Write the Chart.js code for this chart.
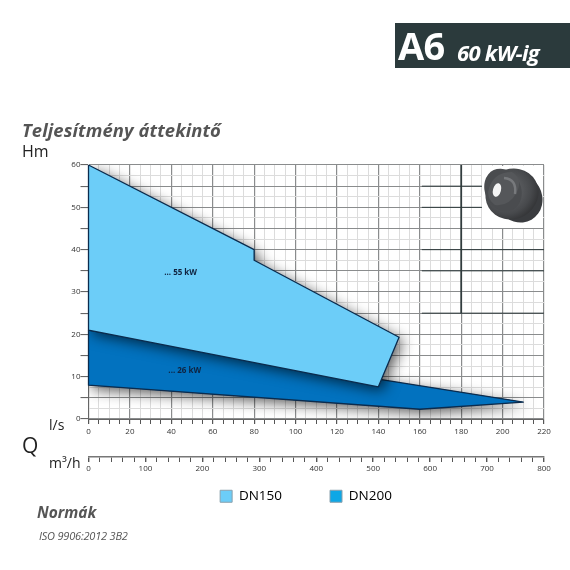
<!DOCTYPE html>
<html lang="hu">
<head>
<meta charset="utf-8">
<title>A6 - Teljesítmény áttekintő</title>
<script src="https://cdn.jsdelivr.net/npm/chart.js@4"></script>
<style>
    html, body { margin: 0; padding: 0; background: #fff; }
    #page { position: relative; width: 570px; height: 570px; overflow: hidden; font-family: "Open Sans", sans-serif; }
    #chart { position: absolute; left: 0; top: 0; }
    .txt { position: absolute; white-space: nowrap; line-height: 1; }
    #band { position: absolute; left: 395px; top: 23px; width: 175px; height: 45px; background: #2b3a3c; }
    #inset { position: absolute; left: 482px; top: 166px; width: 61px; height: 62px; background: #fff; }
</style>
</head>
<body>
<div id="page">
    <canvas id="chart" width="570" height="570"></canvas>

    <div id="band"></div>
    <div class="txt" style="left:398px;top:26px;font-size:38px;font-weight:700;color:#fff;letter-spacing:-.8px">A6</div>
    <div class="txt" style="left:457px;top:41px;font-size:22px;font-weight:700;font-style:italic;color:#fff;letter-spacing:-.7px">60 kW-ig</div>

    <div class="txt" style="left:22px;top:121px;font-size:18.4px;font-weight:700;font-style:italic;color:#555;letter-spacing:.1px">Teljesítmény áttekintő</div>
    <div class="txt" style="left:22px;top:143px;font-size:16px;color:#222">Hm</div>
    <div class="txt" style="left:49px;top:418px;font-size:14px;color:#222">l/s</div>
    <div class="txt" style="left:22px;top:435px;font-size:21px;color:#222">Q</div>
    <div class="txt" style="left:49px;top:456px;font-size:14px;color:#222">m³/h</div>
    <div class="txt" style="left:37px;top:505px;font-size:15.5px;font-weight:700;font-style:italic;color:#555">Normák</div>
    <div class="txt" style="left:39px;top:530px;font-size:11px;font-style:italic;color:#555;letter-spacing:-.2px">ISO 9906:2012 3B2</div>

    <!-- szivattyú kép a jobb felső sarokban -->
    <div id="inset">
        <svg width="61" height="62" viewBox="0 0 61 62">
            <defs>
                <radialGradient id="body" cx="45%" cy="40%" r="65%">
                    <stop offset="0" stop-color="#6b6d70"/>
                    <stop offset="0.7" stop-color="#47494c"/>
                    <stop offset="1" stop-color="#2f3032"/>
                </radialGradient>
            </defs>
            <ellipse cx="37" cy="32" rx="23" ry="25" fill="#3a3c3f" transform="rotate(-30 37 32)"/>
            <ellipse cx="30" cy="28" rx="27" ry="25" fill="url(#body)" transform="rotate(-30 30 28)"/>
            <ellipse cx="21" cy="24" rx="18" ry="22" fill="#4a4c4f" transform="rotate(-25 21 24)"/>
            <path d="M6 26 Q10 6 30 6 Q41 13 35 26 Q27 41 13 39 Q6 34 6 26Z" fill="#55575a"/>
            <ellipse cx="15" cy="24" rx="4" ry="7" fill="#f4f4f4" transform="rotate(15 15 24)"/>
            <path d="M22 12 Q35 13 33 28" fill="none" stroke="#77797c" stroke-width="2.5"/>
        </svg>
    </div>
</div>

<script>
// Adatok
const flowTicks = [0, 20, 40, 60, 80, 100, 120, 140, 160, 180, 200, 220];
const headTicks = [0, 10, 20, 30, 40, 50, 60];
const cubicTicks = [0, 100, 200, 300, 400, 500, 600, 700, 800];

const seriesNames = ['DN150', 'DN200'];
const dn150Flow = [0, 80, 80, 150, 140, 0, 0];
const dn150Head = [60, 40, 37.5, 19.3, 7.6, 21, 60];
const dn200Flow = [0, 140, 210, 160, 0, 0];
const dn200Head = [21, 9.4, 4, 2.3, 8, 21];

// sötét rácsvonalak jobb fent (null = szakadás)
const darkFlow = [161, 190, null, 161, 190, null, 161, 220, null, 161, 220, null, 161, 220, null, 180, 180];
const darkHead = [55, 55, null, 50, 50, null, 40, 40, null, 35, 35, null, 25, 25, null, 60, 25];

const powerLabels = ['... 55 kW', '... 26 kW'];
const powerFlow = [44.5, 46.5];
const powerHead = [34.6, 11.4];

const fillColors = ['#6ccdf8', '#0272bf'];
const legendColors = ['#6ccdf8', '#0ea7e6'];

function toPoints(xs, ys) {
    return xs.map((x, i) => ({ x: x, y: ys[i] }));
}

// árnyék a sokszögek alá: az előző dataset rajzolása után fut
const shadowPlugin = {
    id: 'polyShadow',
    afterDatasetDraw(chart, args) {
        const target = args.index - 1;
        if (target !== 0 && target !== 1) return;
        const pts = chart.data.datasets[target].data;
        const ctx = chart.ctx;
        const area = chart.chartArea;
        ctx.save();
        ctx.beginPath();
        ctx.rect(area.left, area.top, area.width, area.height);
        ctx.clip();
        ctx.shadowColor = 'rgba(0,0,0,0.65)';
        ctx.shadowBlur = 14;
        ctx.shadowOffsetX = 4;
        ctx.shadowOffsetY = 4;
        ctx.fillStyle = fillColors[target];
        ctx.beginPath();
        pts.forEach((p, i) => {
            const px = chart.scales.x.getPixelForValue(p.x);
            const py = chart.scales.y.getPixelForValue(p.y);
            if (i === 0) ctx.moveTo(px, py); else ctx.lineTo(px, py);
        });
        ctx.closePath();
        ctx.fill();
        ctx.restore();
    }
};

// "... 55 kW" feliratok
const powerPlugin = {
    id: 'powerLabels',
    afterDatasetsDraw(chart) {
        const ctx = chart.ctx;
        ctx.save();
        ctx.font = '700 8px "Open Sans"';
        ctx.fillStyle = '#10233f';
        ctx.textAlign = 'center';
        ctx.textBaseline = 'middle';
        powerLabels.forEach((t, i) => {
            ctx.fillText(t, chart.scales.x.getPixelForValue(powerFlow[i]), chart.scales.y.getPixelForValue(powerHead[i]));
        });
        ctx.restore();
    }
};

// a jelmagyarázat feljebb kerül, a tengelyek alá
const legendShift = {
    id: 'legendShift',
    afterLayout(chart) {
        chart.legend.top -= 39.5;
        chart.legend.bottom -= 39.5;
    }
};

new Chart(document.getElementById('chart').getContext('2d'), {
    type: 'scatter',
    data: {
        datasets: [
            { label: seriesNames[0], data: toPoints(dn150Flow, dn150Head), showLine: true, fill: 'shape', order: 1,
              backgroundColor: fillColors[0], borderColor: '#0b2b4d', borderWidth: 1.3, borderJoinStyle: 'round', pointRadius: 0, clip: 2 },
            { label: seriesNames[1], data: toPoints(dn200Flow, dn200Head), showLine: true, fill: 'shape', order: 2,
              backgroundColor: fillColors[1], borderColor: '#0b2b4d', borderWidth: 1.3, borderJoinStyle: 'round', pointRadius: 0, clip: 2 },
            { label: 'rács', data: toPoints(darkFlow, darkHead), showLine: true, fill: false, order: 3, spanGaps: false,
              borderColor: '#2e3a3c', borderWidth: 1, pointRadius: 0 }
        ]
    },
    options: {
        responsive: false,
        animation: false,
        events: [],
        layout: { padding: { left: 68, right: 26, top: 165, bottom: 17.5 } },
        scales: {
            x: {
                type: 'linear', min: 0, max: 220,
                afterFit: s => { s.height = 38; },
                grid: {
                    color: c => c.tick.value % 20 === 0 ? '#8a8c8d' : '#dcdcdc',
                    lineWidth: c => c.tick.value % 20 === 0 ? 1.2 : 1,
                    tickColor: '#555',
                    tickLength: 5
                },
                border: { color: '#666', width: 1 },
                ticks: {
                    stepSize: 5, autoSkip: false, maxRotation: 0, padding: 3,
                    color: '#333', font: { family: 'Open Sans', size: 8 },
                    callback: v => flowTicks.includes(v) ? v : ''
                }
            },
            x2: {
                type: 'linear', position: 'bottom', min: 0, max: 800,
                afterFit: s => { s.height = 24; },
                grid: { drawOnChartArea: false, tickColor: '#555', tickLength: 5, lineWidth: c => c.tick.value % 100 === 0 ? 1.4 : 1 },
                border: { color: '#777', width: 1.5 },
                ticks: {
                    stepSize: 20, autoSkip: false, maxRotation: 0, padding: 2,
                    color: '#333', font: { family: 'Open Sans', size: 8 },
                    callback: v => cubicTicks.includes(v) ? v : ''
                }
            },
            y: {
                type: 'linear', min: 0, max: 60,
                afterFit: s => { s.width = 20.5; },
                grid: {
                    color: c => c.tick.value % 5 === 0 ? '#8a8c8d' : '#dcdcdc',
                    lineWidth: c => c.tick.value % 5 === 0 ? 1.1 : 1,
                    tickColor: c => c.tick.value % 5 === 0 ? '#666' : 'rgba(0,0,0,0)',
                    tickLength: 8
                },
                border: { color: '#666', width: 1 },
                ticks: {
                    stepSize: 2.5, autoSkip: false, padding: 0,
                    color: '#333', font: { family: 'Open Sans', size: 8 },
                    callback: v => headTicks.includes(v) ? v : ''
                }
            }
        },
        plugins: {
            title: { display: false },
            tooltip: { enabled: false },
            legend: {
                display: true,
                position: 'bottom',
                labels: {
                    boxWidth: 12, boxHeight: 12, padding: 48,
                    color: '#444', font: { family: 'Open Sans', size: 13.5 },
                    generateLabels: () => seriesNames.map((name, i) => ({
                        text: name, fillStyle: legendColors[i], strokeStyle: '#8aa0ad', lineWidth: 1, datasetIndex: i
                    }))
                }
            }
        }
    },
    plugins: [shadowPlugin, powerPlugin, legendShift]
});
</script>
</body>
</html>
